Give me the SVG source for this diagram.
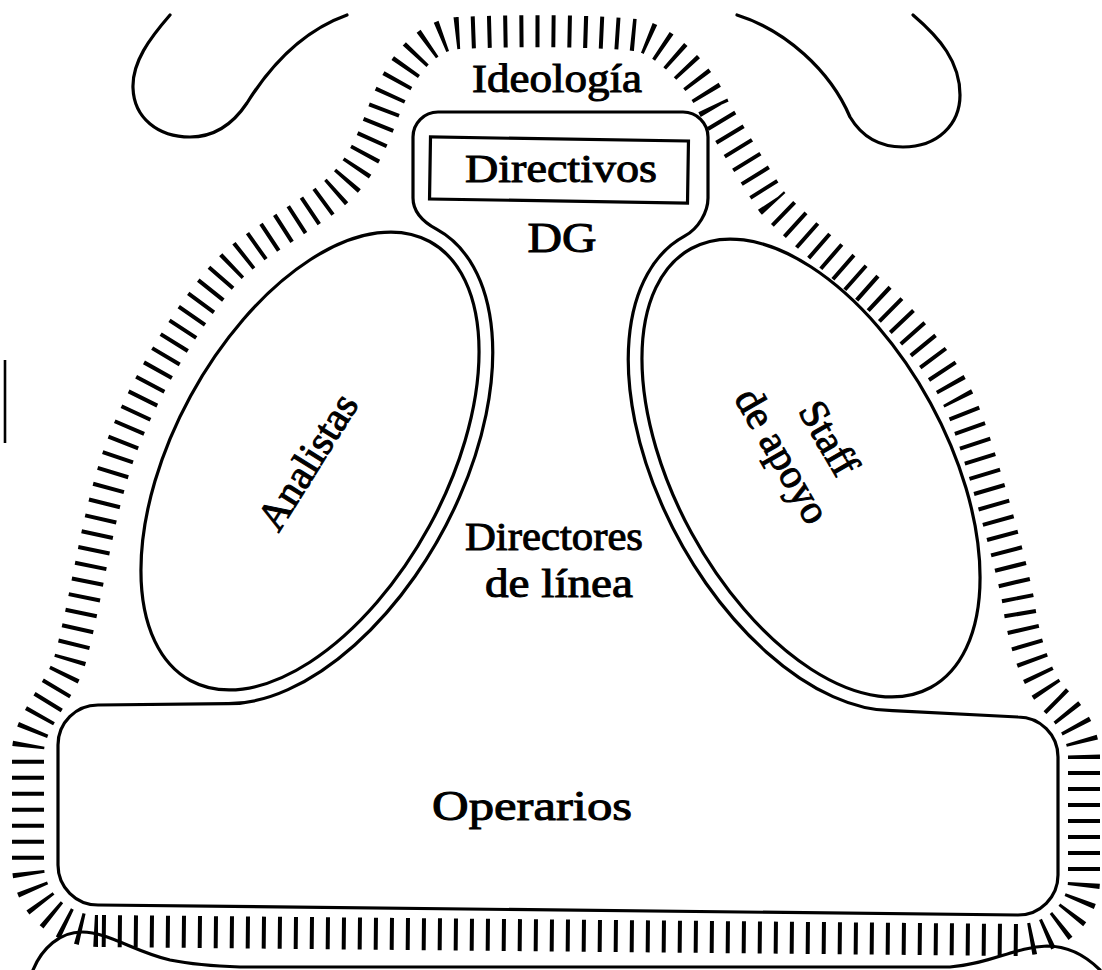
<svg xmlns="http://www.w3.org/2000/svg" width="1102" height="970" viewBox="0 0 1102 970">
<style>
.ln{fill:none;stroke:#000;stroke-width:3.2;stroke-linejoin:round;stroke-linecap:round}
.hatch{fill:none;stroke:#000;stroke-width:32;stroke-dasharray:4 12;stroke-linecap:butt}
.t{font-family:"Liberation Serif","Times New Roman",serif;font-size:41px;fill:#000;stroke:#000;stroke-width:1;text-anchor:middle}
</style>
<rect width="1102" height="970" fill="#fff"/>
<g id="fondo">
<path class="ln" d="M170,15 C150,38 132,62 133,88 C134,118 158,137 190,137 C214,137 233,124 247,103 C272,63 305,30 347,15"/>
<path class="ln" d="M737,15 C785,30 830,70 850,117 C862,137 880,147 903,147 C938,147 960,124 960,95 C960,62 940,38 913,15"/>
<path class="ln" d="M33,970 C42,948 60,932 82,932 C108,932 135,952 170,960 C190,964 210,966 240,967 L950,967 C990,964 1015,947 1047,946 C1070,946 1088,958 1100,970"/>
<line x1="5" y1="360" x2="5" y2="443" stroke="#000" stroke-width="2.6"/>
</g>
<g id="ideologia">
<path class="hatch" d="M98,931 A70 66 0 0 1 28,865 L28,752 C28,722 62,689 70,660 C88,593 96,520 119,454 C144,384 195,304 230,268 C258,240 312,214 338,190 C360,170 372.5,141 383,113 C395,80 418,36 458,33 C520,30 600,31 635,35 C660,37 698,72 714,108 C724,125 760,184 772,202 C790,222 830,255 858,280 C885,303 935,350 957,397 C974,427 1015,576 1019,606 C1023,636 1035,680 1055,700 C1072,716 1084,735 1084,757 L1084,880 A66 60 0 0 1 1018,940 Z"/>
<text class="t" x="557" y="92" textLength="170" lengthAdjust="spacingAndGlyphs">Ideología</text>
</g>
<g id="estructura">
<path class="ln" d="M98,705 L228.2,703.7 A264 150 -61.4 0 0 436.5,229.2 C422.5,221.6 413,212 413,198 L413,137 A25 25 0 0 1 438,112 L683,112 A25 25 0 0 1 708,137 L708,198 C708,212 698.5,228.6 684.5,236.2 A264 150 61.4 0 0 892.8,710.7 L1018,717 A40 40 0 0 1 1058,757 L1058,875 A40 40 0 0 1 1018,915 L98,905 A40 40 0 0 1 58,865 L58,745 A40 40 0 0 1 98,705 Z"/>
</g>
<g id="directivos">
<rect class="ln" x="430" y="139" width="258" height="62" transform="rotate(0.9 559 170)" style="stroke-linejoin:miter"/>
<text class="t" x="561" y="182" textLength="192" lengthAdjust="spacingAndGlyphs">Directivos</text>
</g>
<g id="dg">
<text class="t" x="562" y="252" textLength="69" lengthAdjust="spacingAndGlyphs" style="font-size:42px">DG</text>
</g>
<g id="analistas">
<ellipse class="ln" cx="310" cy="461" rx="250" ry="136" transform="rotate(-61.4 310 461)"/>
<text class="t" transform="translate(308,462) rotate(-58)" x="0" y="13">Analistas</text>
</g>
<g id="staff">
<ellipse class="ln" cx="811" cy="468" rx="250" ry="136" transform="rotate(61.4 811 468)"/>
<text class="t" transform="translate(804,448) rotate(60)" x="4" y="-13">Staff</text>
<text class="t" transform="translate(804,448) rotate(60)" x="-4" y="36">de apoyo</text>
</g>
<g id="directores">
<text class="t" x="554" y="550" textLength="178" lengthAdjust="spacingAndGlyphs">Directores</text>
<text class="t" x="559" y="597" textLength="148" lengthAdjust="spacingAndGlyphs">de línea</text>
</g>
<g id="operarios">
<text class="t" x="532" y="820" textLength="200" lengthAdjust="spacingAndGlyphs" style="font-size:42px">Operarios</text>
</g>
<g id="connectors"/>
</svg>
